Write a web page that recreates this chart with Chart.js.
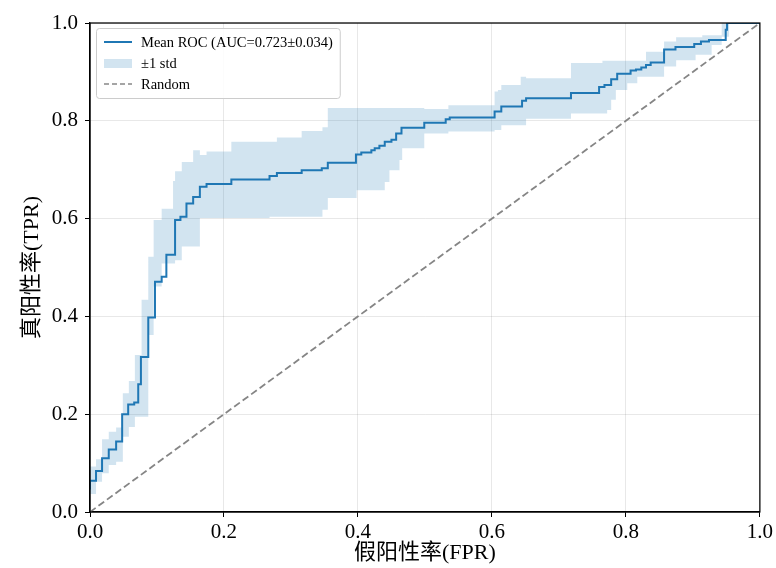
<!DOCTYPE html>
<html>
<head>
<meta charset="utf-8">
<script src="https://cdn.jsdelivr.net/npm/chart.js"></script>
<style>
  html, body { margin: 0; padding: 0; background: #fff; }
  #roc { display: block; }
</style>
</head>
<body>
<canvas id="roc" width="776" height="568"></canvas>
<script>
// ---- data ----
const meanFpr = [0, 0.009, 0.018, 0.028, 0.039, 0.048, 0.057, 0.066, 0.072, 0.076, 0.087, 0.097, 0.107, 0.114, 0.127, 0.135, 0.144, 0.154, 0.164, 0.174, 0.211, 0.268, 0.279, 0.316, 0.346, 0.355, 0.397, 0.405, 0.420, 0.425, 0.432, 0.440, 0.450, 0.457, 0.465, 0.499, 0.531, 0.537, 0.604, 0.614, 0.645, 0.651, 0.718, 0.760, 0.768, 0.778, 0.787, 0.807, 0.815, 0.823, 0.830, 0.837, 0.857, 0.874, 0.902, 0.912, 0.924, 0.949, 0.951, 0.961, 1.0];
const meanTpr = [0.046, 0.064, 0.084, 0.110, 0.128, 0.144, 0.200, 0.220, 0.224, 0.261, 0.317, 0.398, 0.471, 0.481, 0.526, 0.597, 0.604, 0.631, 0.644, 0.665, 0.671, 0.680, 0.687, 0.693, 0.699, 0.703, 0.714, 0.731, 0.735, 0.740, 0.744, 0.749, 0.757, 0.761, 0.774, 0.786, 0.796, 0.803, 0.807, 0.819, 0.829, 0.841, 0.846, 0.857, 0.869, 0.873, 0.885, 0.896, 0.903, 0.905, 0.909, 0.914, 0.919, 0.946, 0.951, 0.957, 0.962, 0.965, 0.986, 1.0, 1.0];

// ±1 std band, upper and lower edges on a shared fpr grid
const bandFpr = [0, 0.009, 0.018, 0.028, 0.039, 0.049, 0.058, 0.067, 0.077, 0.087, 0.095, 0.107, 0.124, 0.127, 0.137, 0.154, 0.164, 0.174, 0.211, 0.268, 0.279, 0.316, 0.347, 0.355, 0.398, 0.440, 0.447, 0.462, 0.466, 0.499, 0.535, 0.604, 0.609, 0.614, 0.643, 0.651, 0.718, 0.765, 0.772, 0.778, 0.785, 0.802, 0.817, 0.830, 0.857, 0.875, 0.904, 0.914, 0.928, 0.943, 0.954, 0.969, 1.0];
const upperTpr = [0.082, 0.093, 0.108, 0.149, 0.164, 0.173, 0.243, 0.268, 0.321, 0.434, 0.522, 0.597, 0.620, 0.677, 0.697, 0.716, 0.740, 0.730, 0.737, 0.757, 0.757, 0.766, 0.779, 0.787, 0.826, 0.826, 0.826, 0.826, 0.826, 0.826, 0.824, 0.832, 0.860, 0.863, 0.873, 0.890, 0.887, 0.918, 0.923, 0.923, 0.923, 0.923, 0.923, 0.923, 0.941, 0.962, 0.971, 0.971, 0.975, 0.975, 1.0, 1.0, 1.0];
const lowerTpr = [0.012, 0.037, 0.062, 0.079, 0.096, 0.103, 0.154, 0.174, 0.195, 0.195, 0.362, 0.461, 0.508, 0.508, 0.515, 0.543, 0.543, 0.601, 0.601, 0.601, 0.604, 0.604, 0.604, 0.618, 0.642, 0.658, 0.675, 0.699, 0.720, 0.744, 0.774, 0.778, 0.781, 0.781, 0.791, 0.791, 0.804, 0.815, 0.815, 0.822, 0.843, 0.863, 0.877, 0.890, 0.890, 0.911, 0.924, 0.935, 0.935, 0.955, 0.972, 1.0, 1.0];

const chanceFpr = [0, 1];
const chanceTpr = [0, 1];
const tickValues = [0, 0.2, 0.4, 0.6, 0.8, 1.0];

const SERIF = "'Liberation Serif', 'Noto Sans CJK SC', serif";
const BLUE = '#1f77b4';
const BAND = 'rgba(31,119,180,0.2)';

const pts = (xs, ys) => xs.map((x, i) => ({ x: x, y: ys[i] }));

// box round the plot area + legend inside top-left
const frame = {
  id: 'frame',
  afterDraw(chart) {
    const { ctx, chartArea: a } = chart;
    ctx.save();
    ctx.strokeStyle = '#000';
    ctx.lineWidth = 1.25;
    ctx.strokeRect(a.left, a.top, a.right - a.left, a.bottom - a.top);

    const items = [
      { text: 'Mean ROC (AUC=0.723\u00b10.034)', kind: 'line' },
      { text: '\u00b11 std', kind: 'band' },
      { text: 'Random', kind: 'dash' }
    ];
    ctx.font = '14.5px ' + SERIF;
    const w = Math.max(...items.map(i => ctx.measureText(i.text).width));
    const bx = a.left + 6, by = a.top + 5, bw = 47 + w + 5, bh = 70;
    ctx.fillStyle = 'rgba(255,255,255,0.85)';
    ctx.strokeStyle = '#cccccc';
    ctx.lineWidth = 1;
    ctx.beginPath();
    ctx.roundRect(bx + 0.5, by + 0.5, bw, bh, 3);
    ctx.fill();
    ctx.stroke();

    items.forEach((it, k) => {
      const cy = by + 14 + k * 21;
      const x0 = bx + 8, x1 = bx + 36;
      if (it.kind === 'band') {
        ctx.fillStyle = BAND;
        ctx.fillRect(x0, cy - 4, x1 - x0, 9);
      } else {
        ctx.beginPath();
        ctx.moveTo(x0, cy); ctx.lineTo(x1, cy);
        ctx.lineWidth = it.kind === 'line' ? 2 : 1.6;
        ctx.strokeStyle = it.kind === 'line' ? BLUE : '#888';
        ctx.setLineDash(it.kind === 'dash' ? [5, 3] : []);
        ctx.stroke();
        ctx.setLineDash([]);
      }
      ctx.fillStyle = '#000';
      ctx.textBaseline = 'middle';
      ctx.fillText(it.text, bx + 45, cy + 1);
    });
    ctx.restore();
  }
};

function axis(title, fitFn, titlePad, tickPad) {
  return {
    type: 'linear',
    min: 0,
    max: 1,
    afterBuildTicks: s => { s.ticks = tickValues.map(v => ({ value: v })); },
    afterFit: fitFn,
    ticks: {
      callback: v => v.toFixed(1),
      color: '#000',
      font: { family: SERIF, size: 21 },
      padding: tickPad,
      maxRotation: 0
    },
    grid: { color: 'rgba(0,0,0,0.09)', tickColor: '#000', tickLength: 5, lineWidth: 1 },
    border: { display: true, color: '#000', width: 1.25 },
    title: { display: true, text: title, color: '#000', font: { family: SERIF, size: 22 }, padding: titlePad }
  };
}

new Chart(document.getElementById('roc'), {
  type: 'line',
  data: {
    datasets: [
      { label: 'Mean ROC', data: pts(meanFpr, meanTpr), borderColor: BLUE, borderWidth: 2, stepped: 'after', pointRadius: 0, fill: false },
      { label: 'Random', data: pts(chanceFpr, chanceTpr), borderColor: '#858585', borderWidth: 1.8, borderDash: [7, 3.5], pointRadius: 0, fill: false },
      { label: '+1 std', data: pts(bandFpr, upperTpr), borderWidth: 0, borderColor: 'rgba(0,0,0,0)', backgroundColor: BAND, stepped: 'after', pointRadius: 0, fill: '+1' },
      { label: '-1 std', data: pts(bandFpr, lowerTpr), borderWidth: 0, borderColor: 'rgba(0,0,0,0)', stepped: 'after', pointRadius: 0, fill: false }
    ]
  },
  options: {
    responsive: false,
    animation: false,
    layout: { padding: { top: 23, right: 15, left: 0, bottom: 0 } },
    plugins: { legend: { display: false }, tooltip: { enabled: false } },
    scales: {
      x: axis('假阳性率(FPR)', s => { s.height = 56; }, { top: 0, bottom: 2 }, 3),
      y: axis('真阳性率(TPR)', s => { s.width = 90; }, { top: 19, bottom: 0 }, 7)
    }
  },
  plugins: [frame]
});
</script>
</body>
</html>
